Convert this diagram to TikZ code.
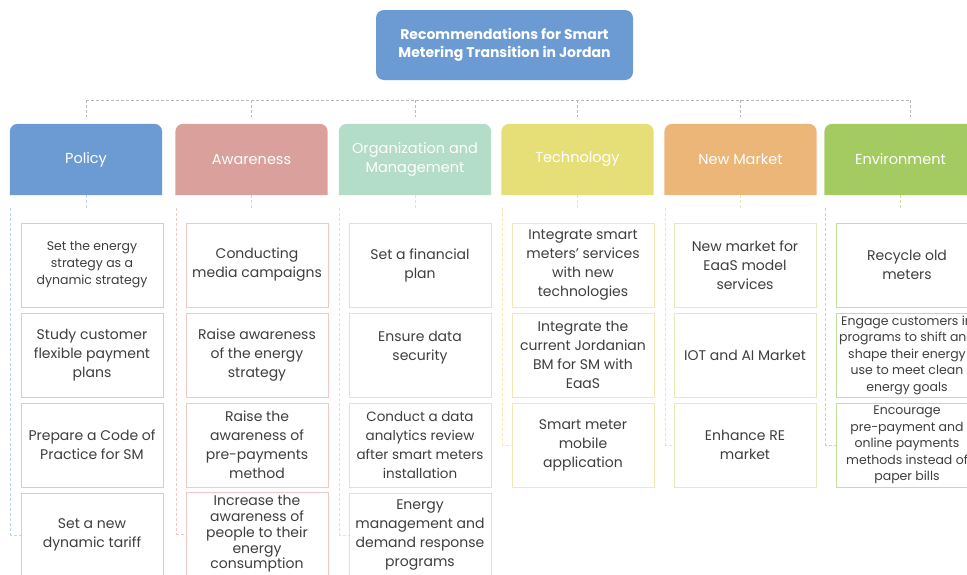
\documentclass[tikz,border=0pt]{standalone}
\usepackage{fontspec}
\setmainfont{Poppins}
\usetikzlibrary{backgrounds}
\definecolor{cPol}{HTML}{6B9BD2}\definecolor{bPol}{HTML}{BCD4EE}
\definecolor{cAw}{HTML}{D9A09C}\definecolor{bAw}{HTML}{F2C9C7}
\definecolor{cOrg}{HTML}{B3DCC9}\definecolor{bOrg}{HTML}{CDEADF}
\definecolor{cTec}{HTML}{E6DF78}\definecolor{bTec}{HTML}{F0EAB0}
\definecolor{cNM}{HTML}{EBB677}\definecolor{bNM}{HTML}{E3EBB8}
\definecolor{cEnv}{HTML}{A4CB62}\definecolor{bEnv}{HTML}{C0DFA0}
\definecolor{txt}{HTML}{3E3E3E}
\definecolor{bus}{HTML}{B8B8B8}
\newcommand\hdrfill[2]{\fill[#2] (#1.south west) -- ([yshift=-8pt]#1.north west) arc[start angle=180,end angle=90,radius=8pt] -- ([xshift=-8pt]#1.north east) arc[start angle=90,end angle=0,radius=8pt] -- (#1.south east) -- cycle;}
\tikzset{
  titlebox/.style={fill=cPol, rounded corners=8pt, minimum width=257pt, minimum height=70pt, text=white, font=\fontsize{14}{18}\selectfont\bfseries, align=center},
  hdr/.style={minimum width=152pt, minimum height=71pt, text=white, font=\fontsize{14.5}{19}\selectfont, align=center, inner sep=0pt},
  item/.style={draw=#1, line width=0.8pt, minimum width=142pt, minimum height=84pt, align=center, text=txt, font=\fontsize{14}{19}\selectfont, inner sep=0pt},
  small/.style={font=\fontsize{12.5}{17}\selectfont},
  tight/.style={font=\fontsize{14}{15.8}\selectfont},
  envt/.style={font=\fontsize{12.5}{16.5}\selectfont},
  busline/.style={draw=bus, dash pattern=on 3pt off 2pt, line width=0.6pt},
  link/.style={draw=#1, dash pattern=on 3pt off 2pt, line width=0.8pt}
}
\begin{document}
\begin{tikzpicture}[x=1pt,y=-1pt]
\useasboundingbox (0,0) rectangle (967,574);
\clip (0,0) rectangle (967,574);
\node[titlebox] (top) at (504.5,45) {Recommendations for Smart\\Metering Transition in Jordan};

% headers
\node[hdr] (h1) at (86,159.5) {Policy};
\node[hdr] (h2) at (251.5,159.5) {Awareness};
\node[hdr] (h3) at (415,159.5) {Organization and\\Management};
\node[hdr] (h4) at (577.5,159.5) {Technology};
\node[hdr] (h5) at (740.5,159.5) {New Market};
\node[hdr] (h6) at (900.5,159.5) {Environment};
\begin{pgfonlayer}{background}
\hdrfill{h1}{cPol}\hdrfill{h2}{cAw}\hdrfill{h3}{cOrg}
\hdrfill{h4}{cTec}\hdrfill{h5}{cNM}\hdrfill{h6}{cEnv}
\end{pgfonlayer}

% bus
\coordinate (b1) at (86,100); \coordinate (b6) at (910,100);
\draw[busline] (b1) -- (b6);
\foreach \x in {86,251.5,415,577.5,740.5,910}{
  \coordinate (t) at (\x,100);
  \draw[busline] (t) -- (\x,117);
}

% Policy
\node[item=bPol, small] (p1) at (92,265) {Set the energy\\strategy as a\\dynamic strategy};
\node[item=bPol] (p2) at (92,355) {Study customer\\flexible payment\\plans};
\node[item=bPol] (p3) at (92,445) {Prepare a Code of\\Practice for SM};
\node[item=bPol] (p4) at (92,535) {Set a new\\dynamic tariff};
% Awareness
\node[item=bAw] (a1) at (257,265) {Conducting\\media campaigns};
\node[item=bAw] (a2) at (257,355) {Raise awareness\\of the energy\\strategy};
\node[item=bAw] (a3) at (257,445) {Raise the\\awareness of\\pre-payments\\method};
\node[item=bAw, tight] (a4) at (257,534) {Increase the\\awareness of\\people to their\\energy\\consumption};
% Org
\node[item=bOrg] (o1) at (420,265) {Set a financial\\plan};
\node[item=bOrg] (o2) at (420,355) {Ensure data\\security\\\mbox{}};
\node[item=bOrg, font=\fontsize{13.5}{19}\selectfont] (o3) at (420,445) {Conduct a data\\analytics review\\after smart meters\\installation};
\node[item=bOrg] (o4) at (420,535) {Energy\\management and\\demand response\\programs};
% Technology
\node[item=bTec] (t1) at (583,265) {Integrate smart\\meters' services\\with new\\technologies};
\node[item=bTec] (t2) at (583,355) {Integrate the\\current Jordanian\\BM for SM with\\EaaS};
\node[item=bTec] (t3) at (583,445) {Smart meter\\mobile\\application};
% New Market
\node[item=bNM] (n1) at (745,265) {New market for\\EaaS model\\services};
\node[item=bNM] (n2) at (745,355) {IOT and AI Market};
\node[item=bNM] (n3) at (745,445) {Enhance RE\\market};
% Environment
\node[item=bEnv] (e1) at (907,265) {Recycle old\\meters};
\node[item=bEnv, envt] (e2) at (907,355) {Engage customers in\\programs to shift and\\shape their energy\\use to meet clean\\energy goals};
\node[item=bEnv, envt] (e3) at (907,445) {Encourage\\pre-payment and\\online payments\\methods instead of\\paper bills};

% column links
\foreach \h/\last/\c in {h1/p4/bPol,h2/a4/bAw,h3/o4/bOrg,h4/t3/bTec,h5/n3/bNM,h6/e3/bEnv}{
  \draw[link=\c] (\h.south) -- ++(0,15);
  \draw[link=\c] ([xshift=1pt]\h.south west) ++(0,13) -- ([xshift=1pt]\h.south west |- \last.west) -- (\last.west);
}
\end{tikzpicture}
\end{document}
